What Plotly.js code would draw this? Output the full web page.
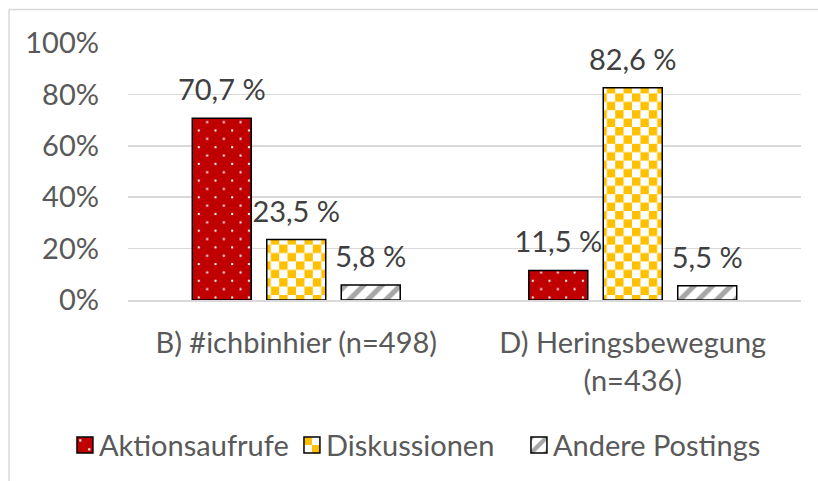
<!DOCTYPE html>
<html><head><meta charset="utf-8">
<script src="https://cdn.plot.ly/plotly-3.0.1.min.js"></script>
<style>html,body{margin:0;padding:0;background:#fff;} #chart{width:818px;height:481px;}</style>
</head><body><div id="chart"></div>
<script>
const categories = ['B) #ichbinhier (n=498)', 'D) Heringsbewegung<br>(n=436)'];
const seriesNames = ['Aktionsaufrufe', 'Diskussionen', 'Andere Postings'];
const aktionsaufrufe = [0.707, 0.115];
const diskussionen = [0.235, 0.826];
const anderePostings = [0.058, 0.055];
const yTickVals = [0, 0.2, 0.4, 0.6, 0.8, 1.0];
const yTickLabels = ['0%', '20%', '40%', '60%', '80%', '100%'];

function fmt(v) { return (v * 100).toFixed(1).replace('.', ',') + ' %'; }

const FONT = 'Lato, "Liberation Sans", sans-serif';
const outline = { color: '#000000', width: 1.5 };

function barTrace(name, values, pattern) {
  return {
    type: 'bar', name: name, x: categories, y: values,
    text: values.map(fmt), textposition: 'outside', constraintext: 'none',
    cliponaxis: false,
    textfont: { family: FONT, size: 29, color: '#404040' },
    marker: { color: pattern.bgcolor, line: outline, pattern: pattern },
    hoverinfo: 'none'
  };
}

const data = [
  barTrace(seriesNames[0], aktionsaufrufe, { shape: '.', fgcolor: '#FFFFFF', bgcolor: '#C00000', size: 8, solidity: 0.05 }),
  barTrace(seriesNames[1], diskussionen, { shape: 'x', fgcolor: '#FFC000', bgcolor: '#FFFFFF', size: 8, solidity: 0.3 }),
  barTrace(seriesNames[2], anderePostings, { shape: '/', fgcolor: '#A6A6A6', bgcolor: '#FFFFFF', size: 13, solidity: 0.4 })
];

const GRID = '#D9D9D9';
const layout = {
  width: 818, height: 481,
  margin: { l: 128, r: 17, t: 43, b: 180 },
  paper_bgcolor: '#FFFFFF', plot_bgcolor: '#FFFFFF',
  font: { family: FONT, size: 29, color: '#595959' },
  barmode: 'group', bargap: 0.336, bargroupgap: 0.208,
  showlegend: true,
  legend: {
    orientation: 'h', x: -0.1026, xanchor: 'left', y: -0.559, yanchor: 'middle',
    entrywidth: 182, entrywidthmode: 'pixels',
    font: { family: FONT, size: 29, color: '#595959' },
    bgcolor: 'rgba(0,0,0,0)', traceorder: 'normal'
  },
  xaxis: {
    type: 'category', showgrid: false, showline: true, linecolor: GRID, linewidth: 1.5,
    ticks: '', ticklabelstandoff: 17,
    tickfont: { family: FONT, size: 29, color: '#595959' },
    fixedrange: true
  },
  yaxis: {
    range: [0, 1], tickvals: yTickVals, ticktext: yTickLabels,
    showgrid: true, gridcolor: GRID, gridwidth: 1.5, zeroline: false,
    ticks: '', ticklabelstandoff: 28,
    tickfont: { family: FONT, size: 29, color: '#595959' },
    fixedrange: true
  },
  shapes: [
    { type: 'line', xref: 'paper', yref: 'paper', x0: -0.1768, x1: 1.1, y0: 1.13, y1: 1.13, line: { color: GRID, width: 1.5 } },
    { type: 'line', xref: 'paper', yref: 'paper', x0: -0.1768, x1: -0.1768, y0: 1.13, y1: -0.8, line: { color: GRID, width: 1.5 } }
  ]
};

const SVGNS = 'http://www.w3.org/2000/svg';
function rect(p, x, y, w, h, fill) {
  const r = document.createElementNS(SVGNS, 'rect');
  r.setAttribute('x', x); r.setAttribute('y', y);
  r.setAttribute('width', w); r.setAttribute('height', h);
  r.setAttribute('fill', fill);
  p.appendChild(r);
}
function customizePatterns(gd) {
  gd.querySelectorAll('pattern').forEach(function (p) {
    const s = p.outerHTML.toLowerCase().replace(/\s/g, '');
    if (s.indexOf('255,192,0') >= 0 || s.indexOf('ffc000') >= 0) {
      while (p.firstChild) p.removeChild(p.firstChild);
      const c = 8.4;
      p.setAttribute('width', 2 * c); p.setAttribute('height', 2 * c);
      rect(p, 0, 0, 2 * c, 2 * c, '#FFFFFF');
      rect(p, 0, 0, c, c, '#FFC000');
      rect(p, c, c, c, c, '#FFC000');
    } else if (p.querySelector('circle')) {
      while (p.firstChild) p.removeChild(p.firstChild);
      const c = 8.35;
      p.setAttribute('width', 2 * c); p.setAttribute('height', 2 * c);
      rect(p, 0, 0, 2 * c, 2 * c, '#C00000');
      rect(p, 3, 3, 2, 2, '#FFFFFF');
      rect(p, 3 + c, 3 + c, 2, 2, '#FFFFFF');
    }
  });
  gd.querySelectorAll('text.bartext').forEach(function (t) {
    t.setAttribute('transform', 'translate(0,-9) ' + (t.getAttribute('transform') || ''));
  });
  gd.querySelectorAll('.legend .legendpoints path, .legend .legendundefined path').forEach(function (pth) {
    pth.setAttribute('transform', 'translate(26,0) scale(1.33)');
    pth.setAttribute('vector-effect', 'non-scaling-stroke');
    pth.style.vectorEffect = 'non-scaling-stroke';
  });
  gd.querySelectorAll('.legend [clip-path], .legend [clipPath]').forEach(function (e) {
    e.removeAttribute('clip-path');
    e.removeAttribute('clipPath');
    e.style.clipPath = 'none';
  });
  gd.querySelectorAll('.legend .traces').forEach(function (e) {
    e.querySelectorAll('*').forEach(function (c) { c.removeAttribute('clip-path'); });
  });
}

Plotly.newPlot('chart', data, layout, { displayModeBar: false, staticPlot: true }).then(customizePatterns);
</script>
</body></html>
